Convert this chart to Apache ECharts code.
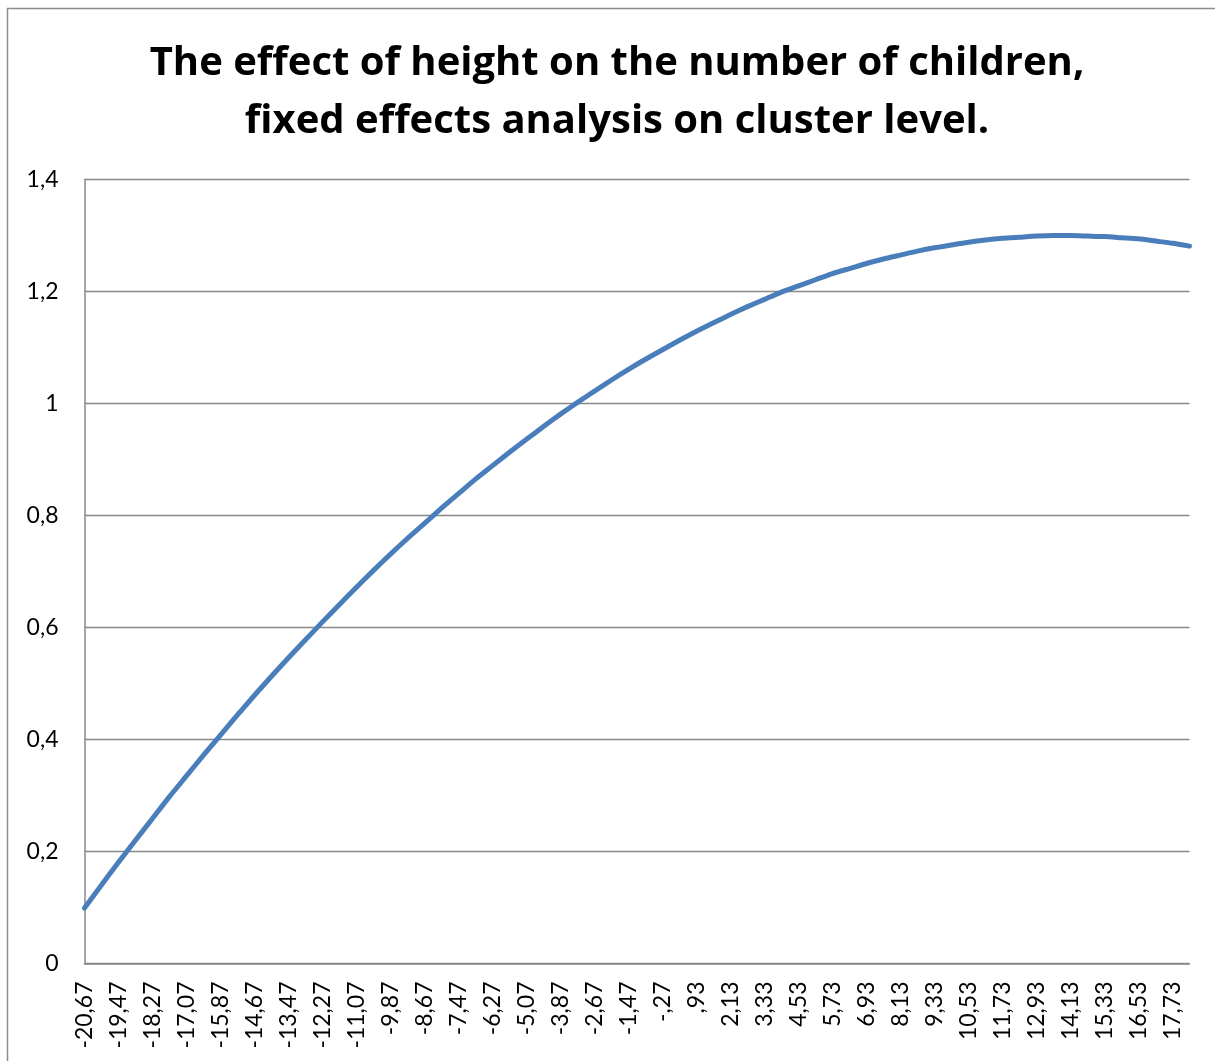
<!DOCTYPE html>
<html>
<head>
<meta charset="utf-8">
<script src="https://cdn.jsdelivr.net/npm/echarts@6/dist/echarts.min.js"></script>
<style>
  html, body { margin: 0; padding: 0; background: #ffffff; }
  #chart { width: 1215px; height: 1061px; }
</style>
</head>
<body>
<div id="chart"></div>
<script>
// Height deviation (cm) categories, 0.6 apart
const heightCategories = [
  '-20,67', '-20,07', '-19,47', '-18,87', '-18,27', '-17,67', '-17,07', '-16,47',
  '-15,87', '-15,27', '-14,67', '-14,07', '-13,47', '-12,87', '-12,27', '-11,67',
  '-11,07', '-10,47', '-9,87', '-9,27', '-8,67', '-8,07', '-7,47', '-6,87',
  '-6,27', '-5,67', '-5,07', '-4,47', '-3,87', '-3,27', '-2,67', '-2,07',
  '-1,47', '-,87', '-,27', ',33', ',93', '1,53', '2,13', '2,73',
  '3,33', '3,93', '4,53', '5,13', '5,73', '6,33', '6,93', '7,53',
  '8,13', '8,73', '9,33', '9,93', '10,53', '11,13', '11,73', '12,33',
  '12,93', '13,53', '14,13', '14,73', '15,33', '15,93', '16,53', '17,13',
  '17,73', '18,33'
];

// Predicted effect on the number of children
const childrenEffect = [
  0.099, 0.140, 0.181, 0.220, 0.259, 0.298, 0.335, 0.372,
  0.408, 0.444, 0.479, 0.513, 0.546, 0.578, 0.610, 0.641,
  0.672, 0.702, 0.731, 0.759, 0.786, 0.813, 0.839, 0.865,
  0.889, 0.913, 0.936, 0.959, 0.981, 1.002, 1.022, 1.042,
  1.061, 1.079, 1.096, 1.113, 1.129, 1.144, 1.159, 1.173,
  1.186, 1.199, 1.210, 1.221, 1.232, 1.241, 1.250, 1.258,
  1.265, 1.272, 1.278, 1.283, 1.288, 1.292, 1.295, 1.297,
  1.299, 1.300, 1.300, 1.299, 1.298, 1.296, 1.294, 1.290,
  1.286, 1.281
];

const titleLines = [
  'The effect of height on the number of children,',
  'fixed effects analysis on cluster level.'
];

const chart = echarts.init(document.getElementById('chart'), null, { renderer: 'canvas' });

const gridColor = '#888888';

chart.setOption({
  backgroundColor: '#ffffff',
  animation: false,
  title: {
    text: titleLines.join('\n'),
    left: 612,
    top: 30,
    textAlign: 'center',
    textStyle: {
      fontFamily: 'Open Sans',
      fontWeight: 'bold',
      fontSize: 40,
      lineHeight: 58,
      color: '#000000'
    }
  },
  graphic: [{
    type: 'rect',
    shape: { x: 7.5, y: 8.5, width: 1400, height: 1400 },
    style: { fill: 'none', stroke: '#8c8c8c', lineWidth: 1.5 },
    silent: true,
    z: -1
  }],
  grid: {
    left: 84.5,
    right: 25.5,
    top: 179.5,
    bottom: 97.5,
    containLabel: false
  },
  xAxis: {
    type: 'category',
    data: heightCategories,
    boundaryGap: false,
    axisLine: { show: true, lineStyle: { color: gridColor, width: 1.5 } },
    axisTick: { show: false },
    splitLine: { show: false },
    axisLabel: {
      interval: 1,
      rotate: 90,
      margin: 18,
      fontFamily: 'Lato',
      fontSize: 23,
      color: '#000000'
    }
  },
  yAxis: {
    type: 'value',
    min: 0,
    max: 1.4,
    interval: 0.2,
    axisLine: { show: true, lineStyle: { color: gridColor, width: 1.5 } },
    axisTick: { show: false },
    splitLine: { show: true, lineStyle: { color: gridColor, width: 1.3 } },
    axisLabel: {
      margin: 26,
      fontFamily: 'Lato',
      fontSize: 23,
      color: '#000000',
      formatter: function (v) {
        return Number(v.toFixed(1)).toString().replace('.', ',');
      }
    }
  },
  series: [{
    type: 'line',
    data: childrenEffect,
    showSymbol: false,
    smooth: 0.2,
    lineStyle: { color: '#4a7ebb', width: 5, cap: 'round', join: 'round' },
    itemStyle: { color: '#4a7ebb' }
  }]
});
</script>
</body>
</html>
